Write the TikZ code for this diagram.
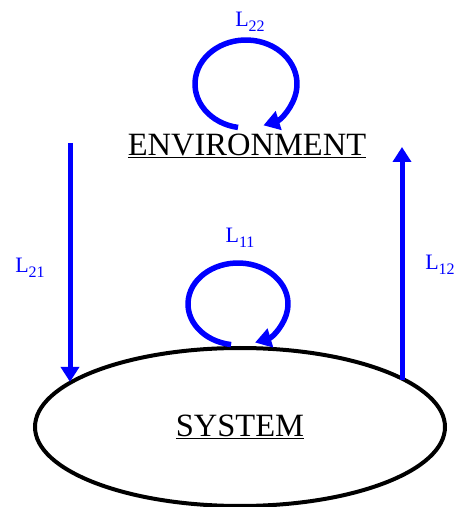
\documentclass[tikz,border=0pt]{standalone}
\usepackage{fontspec}
\setmainfont{Liberation Serif}
\usetikzlibrary{shapes.geometric,arrows.meta}
\definecolor{lblue}{RGB}{0,0,255}
\newcommand{\lsub}[1]{L\raisebox{-0.45ex}{\fontsize{16}{18}\selectfont #1}}
\begin{document}
\begin{tikzpicture}[x=1pt,y=1pt,
  flow/.style={draw=lblue,line width=5pt,-{Triangle[length=15pt,width=18pt]}},
  loopline/.style={draw=lblue,line width=5.5pt,-{Triangle[length=16pt,width=19pt]}},
  lbl/.style={text=lblue,font=\fontsize{22}{25}\selectfont,inner sep=0pt},
  bigtext/.style={font=\fontsize{32.5}{36}\selectfont,inner sep=0pt}]
\useasboundingbox (0,0) rectangle (456,507);
\node[draw,ellipse,line width=4pt,minimum width=410pt,minimum height=158pt,inner sep=0pt,outer sep=0pt] (sys) at (240,80) {};
\node[bigtext] (systext) at (240,80) {\underline{SYSTEM}};
\node[bigtext] (env) at (247,361) {\underline{ENVIRONMENT}};
\coordinate (ltop) at (70,364);
\coordinate (rtop) at (402,360);
\draw[flow] (ltop) -- (ltop |- sys.165.5);
\draw[flow] (rtop |- sys.16.5) -- (rtop);
\coordinate (c22) at (246,423);
\coordinate (c11) at (238,203);
\draw[loopline] ([shift={(261:51 and 44)}]c22) arc[start angle=261,end angle=-70,x radius=51,y radius=44];
\draw[loopline] ([shift={(262:50 and 41)}]c11) arc[start angle=262,end angle=-70,x radius=50,y radius=41];
\node[lbl] (l22) at (250,485) {\lsub{22}};
\node[lbl] (l11) at (240,269) {\lsub{11}};
\node[lbl] (l21) at (30,239) {\lsub{21}};
\node[lbl] (l12) at (440,242) {\lsub{12}};
\end{tikzpicture}
\end{document}
